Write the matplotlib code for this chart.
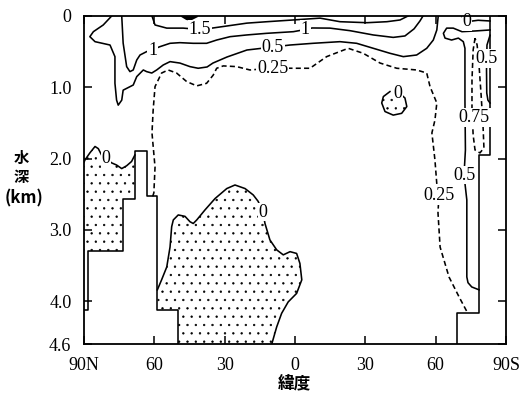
"""
Meridional overturning stream function section (latitude vs depth),
traced from the printed figure.  Latitude: N positive, S negative; depth in km.
"""
import matplotlib

matplotlib.use("Agg")
import matplotlib.pyplot as plt  # noqa: E402

# ---- bottom topography (step outline) ----
TOPO_N_LAT = [90, 88.2, 88.2, 73.3, 73.3, 68.3, 68.3, 63.3, 63.3, 58.7, 58.7, 50.0, 50.0]
TOPO_N_DEP = [4.12, 4.12, 3.30, 3.30, 2.56, 2.56, 1.89, 1.89, 2.53, 2.53, 4.12, 4.12, 4.6]
TOPO_S_LAT = [-69.3, -69.3, -78.5, -78.5, -83.2, -83.2]
TOPO_S_DEP = [4.6, 4.17, 4.17, 1.95, 1.95, 0.0]

# ---- contour lines ----
PSI_150_LAT = [61.0, 59.7, 54.7, 47.7, 40.5, 35.0, 29.0, 20.5, 11.9, 0.9, -10.7, -19.2,
               -30.7, -39.2, -44.8, -48.2]
PSI_150_DEP = [0.0, 0.126, 0.17, 0.17, 0.19, 0.168, 0.14, 0.10, 0.08, 0.056, 0.03, 0.08,
               0.094, 0.08, 0.056, 0.0]

PSI_200_LAT = [47.5, 46.0, 44.3, 42.5]
PSI_200_DEP = [0.0, 0.03, 0.03, 0.0]

PSI_100_LAT = [73.9, 73.3, 71.8, 70.4, 69.0, 67.5, 66.1, 63.3, 60.6, 57.6, 53.3, 49.1,
               43.4, 37.7, 33.4, 27.7, 20.6, 12.1, 0.7, -4.3, -7.3, -14.9, -23.5, -33.4,
               -41.9, -46.9, -50.8, -53.3, -54.6]
PSI_100_DEP = [0.0, 0.38, 0.71, 0.78, 0.757, 0.617, 0.547, 0.50, 0.47, 0.43, 0.383, 0.374,
               0.383, 0.383, 0.337, 0.29, 0.266, 0.243, 0.22, 0.19, 0.168, 0.17, 0.206,
               0.266, 0.30, 0.28, 0.18, 0.07, 0.0]

PSI_050N_LAT = [78.2, 81.8, 86.0, 87.5, 85.3, 78.9, 76.8, 76.8, 76.1, 75.4, 73.9, 73.3,
                69.0, 67.5, 64.7, 63.3, 61.1, 59.0, 56.2, 53.3, 49.1, 44.8, 41.3, 37.5,
                35.0, 29.0, 20.5, 9.4, 2.1, -7.7, -19.2, -26.3, -33.4, -40.5, -46.2,
                -51.9, -56.2, -59.0, -60.5, -61.1]
PSI_050N_DEP = [0.0, 0.126, 0.22, 0.29, 0.36, 0.407, 0.57, 0.944, 1.18, 1.25, 1.18, 1.04,
                0.968, 0.85, 0.757, 0.78, 0.80, 0.757, 0.687, 0.64, 0.66, 0.71, 0.733,
                0.715, 0.66, 0.575, 0.477, 0.435, 0.407, 0.383, 0.36, 0.383, 0.453, 0.523,
                0.57, 0.547, 0.453, 0.337, 0.196, 0.0]

PSI_025_LAT = [60.7, 60.2, 59.7, 61.0, 60.5, 59.7, 56.9, 54.1, 50.5, 46.2, 41.9, 37.7,
               34.9, 33.4, 30.6, 24.9, 19.2, 9.4, 0.7, -6.4, -13.5, -22.7, -29.1, -36.3,
               -43.4, -51.9, -56.2, -57.6, -60.5, -59.7, -58.4, -59.7, -60.6, -61.4,
               -61.0, -61.9, -65.7, -70.0, -73.4]
PSI_025_DEP = [2.53, 2.48, 2.12, 1.64, 1.32, 0.99, 0.80, 0.757, 0.80, 0.92, 0.98, 0.944,
               0.83, 0.733, 0.70, 0.71, 0.757, 0.73, 0.733, 0.733, 0.57, 0.453, 0.523,
               0.66, 0.733, 0.757, 0.80, 0.99, 1.22, 1.46, 1.64, 2.02, 2.40, 2.52, 2.76,
               3.24, 3.66, 3.94, 4.15]

PSI_000A_LAT = [90.0, 89.6, 87.5, 85.3, 83.9, 82.5, 80.6, 78.2, 76.1, 73.9, 71.8, 69.7, 68.3]
PSI_000A_DEP = [2.05, 2.02, 1.92, 1.83, 1.86, 1.95, 2.0, 2.06, 2.09, 2.14, 2.10, 2.04, 1.95]

PSI_000B_LAT = [58.7, 56.9, 54.7, 53.3, 52.6, 51.9, 49.8, 46.9, 44.8, 43.4, 41.9, 38.4,
                34.1, 29.1, 25.6, 21.3, 17.8, 15.7, 13.7, 12.8, 10.7, 7.8, 5.0, 2.1, -0.7,
                -2.1, -2.9, -0.7, 2.9, 5.7, 7.8, 9.9]
PSI_000B_DEP = [3.84, 3.70, 3.52, 3.24, 2.955, 2.86, 2.79, 2.81, 2.885, 2.91, 2.86, 2.72,
                2.56, 2.42, 2.37, 2.42, 2.51, 2.60, 2.75, 2.91, 3.14, 3.28, 3.35, 3.305,
                3.33, 3.47, 3.70, 3.89, 4.01, 4.17, 4.36, 4.6]

PSI_000C_LAT = [-45.5, -46.9, -47.7, -45.5, -41.9, -38.4, -37.0, -37.7, -40.5]
PSI_000C_DEP = [1.11, 1.15, 1.27, 1.365, 1.39, 1.34, 1.22, 1.13, 1.06]

PSI_000S_LAT = [-71.2, -72.1, -73.4, -78.1, -83.2]
PSI_000S_DEP = [0.0, 0.06, 0.08, 0.06, 0.07]

PSI_050S_LAT = [-83.2, -76.8, -71.2, -67.5, -64.7, -63.3, -64.0, -66.8, -69.7, -71.8,
                -72.5, -72.5, -72.7, -72.1, -73.3, -73.3, -73.8, -75.4, -78.5]
PSI_050S_DEP = [0.196, 0.21, 0.22, 0.17, 0.17, 0.243, 0.31, 0.337, 0.31, 0.36, 0.453,
                1.18, 1.88, 2.23, 2.58, 3.66, 3.74, 3.80, 3.84]

PSI_050W_LAT = [-83.2, -81.9, -81.7, -81.8, -82.3, -83.2]
PSI_050W_DEP = [0.27, 0.407, 0.757, 1.08, 1.18, 1.22]

PSI_075_LAT = [-76.8, -76.0, -75.5, -75.5, -76.0, -76.8, -78.9, -80.6, -80.2, -79.4,
               -78.5, -77.7, -76.8]
PSI_075_DEP = [0.31, 0.477, 0.90, 1.32, 1.67, 1.88, 1.92, 1.85, 1.53, 1.11, 0.687,
               0.407, 0.31]

LABEL_TEXT = ["1.5", "1", "1", "0.5", "0.25", "0", "0", "0", "0", "0.5", "0.75", "0.5", "0.25"]
LABEL_LAT = [40.5, 60.6, -4.3, 9.4, 9.4, 80.6, 13.7, -43.9, -73.4, -81.7, -76.4, -72.1, -61.4]
LABEL_DEP = [0.19, 0.48, 0.19, 0.435, 0.73, 2.0, 2.75, 1.08, 0.08, 0.60, 1.42, 2.23, 2.52]

X_TICKS = [90, 60, 30, 0, -30, -60, -90]
X_TICKLABELS = ["90N", "60", "30", "0", "30", "60", "90S"]
Y_TICKS = [0, 1, 2, 3, 4, 4.6]
Y_TICKLABELS = ["0", "1.0", "2.0", "3.0", "4.0", "4.6"]

SERIF = "Liberation Serif"
CJK = ["Noto Sans CJK JP", "DejaVu Sans"]
LW = 1.15
DASH = (3.2, 2.0)

plt.rcParams["hatch.linewidth"] = 0.45

fig = plt.figure(figsize=(5.24, 3.94), dpi=100)
ax = fig.add_axes([0.1603, 0.1269, 0.8053, 0.8325])
ax.set_xlim(90, -90)
ax.set_ylim(4.6, 0)

# stippled (negative) regions
stip = dict(facecolor="none", edgecolor="k", hatch="..", linewidth=0, zorder=1)
ax.fill(PSI_000A_LAT + [TOPO_N_LAT[5], TOPO_N_LAT[4], TOPO_N_LAT[3], TOPO_N_LAT[0]],
        PSI_000A_DEP + [TOPO_N_DEP[5], TOPO_N_DEP[4], TOPO_N_DEP[3], TOPO_N_DEP[3]], **stip)
ax.fill(PSI_000B_LAT + [TOPO_N_LAT[12], TOPO_N_LAT[11], TOPO_N_LAT[10]],
        PSI_000B_DEP + [TOPO_N_DEP[12], TOPO_N_DEP[11], TOPO_N_DEP[10]], **stip)
ax.fill(PSI_000C_LAT, PSI_000C_DEP, **stip)

solid = dict(color="k", lw=LW, zorder=2, solid_joinstyle="round")
dashed = dict(color="k", lw=LW, zorder=2, ls=(0, DASH))

ax.plot(TOPO_N_LAT, TOPO_N_DEP, **solid)
ax.plot(TOPO_S_LAT, TOPO_S_DEP, **solid)
ax.plot(PSI_150_LAT, PSI_150_DEP, **solid)
ax.plot(PSI_200_LAT, PSI_200_DEP, color="k", lw=3, zorder=2)
ax.plot(PSI_100_LAT, PSI_100_DEP, **solid)
ax.plot(PSI_050N_LAT, PSI_050N_DEP, **solid)
ax.plot(PSI_025_LAT, PSI_025_DEP, **dashed)
ax.plot(PSI_000A_LAT, PSI_000A_DEP, **solid)
ax.plot(PSI_000B_LAT, PSI_000B_DEP, **solid)
ax.plot(PSI_000C_LAT, PSI_000C_DEP, **solid)
ax.plot(PSI_000S_LAT, PSI_000S_DEP, **solid)
ax.plot(PSI_050S_LAT, PSI_050S_DEP, **solid)
ax.plot(PSI_050W_LAT, PSI_050W_DEP, **solid)
ax.plot(PSI_075_LAT, PSI_075_DEP, **dashed)

for s, x, y in zip(LABEL_TEXT, LABEL_LAT, LABEL_DEP):
    ax.text(x, y, s, ha="center", va="center", fontsize=13, family=SERIF, zorder=2.2,
            bbox=dict(boxstyle="square,pad=0.05", fc="white", ec="none"))

ax.set_xticks(X_TICKS)
ax.set_xticklabels(X_TICKLABELS)
ax.set_yticks(Y_TICKS)
ax.set_yticklabels(Y_TICKLABELS)
ax.tick_params(direction="in", top=True, right=True, length=6, width=1.1,
               labelsize=13, pad=9)
for lab in ax.get_xticklabels() + ax.get_yticklabels():
    lab.set_family(SERIF)
for sp in ax.spines.values():
    sp.set_linewidth(1.3)

fig.text(21 / 524, 1 - 158 / 394, "水", ha="center", va="center", fontsize=11,
         family=CJK, fontweight="bold")
fig.text(21 / 524, 1 - 177 / 394, "深", ha="center", va="center", fontsize=11,
         family=CJK, fontweight="bold")
fig.text(24 / 524, 1 - 198 / 394, "(km)", ha="center", va="center", fontsize=12,
         family=CJK, fontweight="bold")
fig.text(294 / 524, 1 - 383 / 394, "緯度", ha="center", va="center", fontsize=12,
         family=CJK, fontweight="bold")

fig.savefig("out.png", dpi=100)
plt.close(fig)
